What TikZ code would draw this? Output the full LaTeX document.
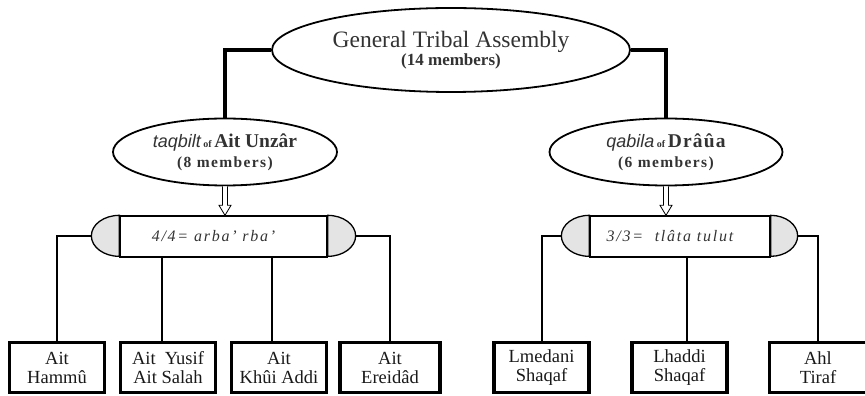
\documentclass[tikz,border=0pt]{standalone}
\usepackage{fontspec}
\setmainfont{Liberation Serif}
\newfontfamily\tribesans{Liberation Sans}
\usepackage{tikz}
\usepackage{xcolor}
\usetikzlibrary{positioning,arrows.meta,shapes,calc}

\definecolor{inkgray}{HTML}{333333}
\definecolor{capgray}{HTML}{E4E4E4}

\tikzset{
  assembly/.style={ellipse, draw, line width=1.8pt, inner sep=0pt, align=center, text=inkgray},
  council/.style={rectangle, draw, line width=1.3pt, inner sep=0pt, minimum height=41pt,
    font=\fontsize{16}{18}\selectfont\itshape\addfontfeature{LetterSpace=11}, text=inkgray},
  lineage/.style={rectangle, draw, line width=3.2pt, minimum width=95pt, minimum height=50pt,
    inner sep=0pt, align=center, font=\fontsize{18.5}{19}\selectfont, text=black!90},
  endcap/.style={draw, fill=capgray, line width=1.3pt},
  link/.style={line width=2pt},
  trunk/.style={line width=4pt},
  hollow/.style={draw, fill=white, line width=0.8pt}
}

\newcommand{\tinyof}{{\fontsize{10}{12}\selectfont\bfseries\ of\ }}

\begin{document}
\begin{tikzpicture}[x=1pt,y=1pt]
    \useasboundingbox (0,0) rectangle (865,396);

    % Draw the assembly and the two tribes
    \node[assembly, minimum width=358pt, minimum height=84pt, font=\fontsize{17}{18}\selectfont] (gta) at (451,346)
        {{\fontsize{23.5}{24}\selectfont General Tribal Assembly}\\{\bfseries (14 members)}};
    \node[assembly, minimum width=224pt, minimum height=67pt, font=\fontsize{15.5}{20}\selectfont] (unzar) at (225,244)
        {{\tribesans\itshape\fontsize{18}{20}\selectfont taqbilt}\tinyof{\fontsize{19.5}{20}\selectfont\bfseries Ait Unzâr}\\
         {\bfseries\addfontfeature{LetterSpace=9}(8 members)}};
    \node[assembly, minimum width=233pt, minimum height=67pt, font=\fontsize{15.5}{20}\selectfont] (draua) at (666,244)
        {{\tribesans\itshape\fontsize{18}{20}\selectfont qabila}\tinyof{\fontsize{19.5}{20}\selectfont\bfseries\addfontfeature{LetterSpace=6}Drâûa}\\
         {\bfseries\addfontfeature{LetterSpace=9}(6 members)}};

    \draw[trunk] (gta.west) -| (unzar.north);
    \draw[trunk] (gta.east) -| (draua.north);

    % Draw the councils with their caps
    \node[council, minimum width=207pt] (unzarbar) at (223.5,159.5) {4/4= arba' rba'\hspace*{20pt}};
    \node[council, minimum width=180pt] (drauabar) at (680,159.5) {3/3=\ \ tlâta tulut\hspace*{20pt}};

    \draw[endcap] (unzarbar.north west) arc[start angle=90, end angle=270, x radius=28pt, y radius=20.5pt] -- cycle;
    \draw[endcap] (unzarbar.north east) arc[start angle=90, end angle=-90, x radius=28pt, y radius=20.5pt] -- cycle;
    \draw[endcap] (drauabar.north west) arc[start angle=90, end angle=270, x radius=28pt, y radius=20.5pt] -- cycle;
    \draw[endcap] (drauabar.north east) arc[start angle=90, end angle=-90, x radius=27pt, y radius=20.5pt] -- cycle;
    \coordinate (unzarL) at ([xshift=-28pt]unzarbar.west);
    \coordinate (unzarR) at ([xshift=28pt]unzarbar.east);
    \coordinate (drauaL) at ([xshift=-28pt]drauabar.west);
    \coordinate (drauaR) at ([xshift=27pt]drauabar.east);

    \draw[hollow] let \p1=(unzar.south), \p2=(unzar.south |- unzarbar.north) in
        (\x1-2.5pt,\y1) -- (\x1-2.5pt,\y2+10pt) -- (\x1-6pt,\y2+10pt) -- (\x2,\y2)
        -- (\x1+6pt,\y2+10pt) -- (\x1+2.5pt,\y2+10pt) -- (\x1+2.5pt,\y1);
    \draw[hollow] let \p1=(draua.south), \p2=(draua.south |- drauabar.north) in
        (\x1-2.5pt,\y1) -- (\x1-2.5pt,\y2+10pt) -- (\x1-6pt,\y2+10pt) -- (\x2,\y2)
        -- (\x1+6pt,\y2+10pt) -- (\x1+2.5pt,\y2+10pt) -- (\x1+2.5pt,\y1);

    % Draw the lineages
    \node[lineage] (hammu) at (57,28.5) {Ait\\Hammû};
    \node[lineage] (yusif) at (168,28.5) {Ait\ \ Yusif\\Ait Salah};
    \node[lineage] (khui) at (279,28.5) {Ait\\Khûi Addi};
    \node[lineage, minimum width=100pt] (ereidad) at (390,28.5) {Ait\\Ereidâd};
    \node[lineage] (lmedani) at (541.5,28.5) {Lmedani\\Shaqaf};
    \node[lineage] (lhaddi) at (679.5,28.5) {Lhaddi\\Shaqaf};
    \node[lineage, minimum width=97pt] (tiraf) at (818,28.5) {Ahl\\Tiraf};

    \draw[link] (unzarL) -| (hammu.north);
    \draw[link] ([xshift=-6pt]yusif.north) -- ([xshift=-6pt]yusif.north |- unzarbar.south);
    \draw[link] ([xshift=-7pt]khui.north) -- ([xshift=-7pt]khui.north |- unzarbar.south);
    \draw[link] (unzarR) -| (ereidad.north);
    \draw[link] (drauaL) -| (lmedani.north);
    \draw[link] ([xshift=7.5pt]lhaddi.north) -- ([xshift=7.5pt]lhaddi.north |- drauabar.south);
    \draw[link] (drauaR) -| (tiraf.north);
\end{tikzpicture}
\end{document}
